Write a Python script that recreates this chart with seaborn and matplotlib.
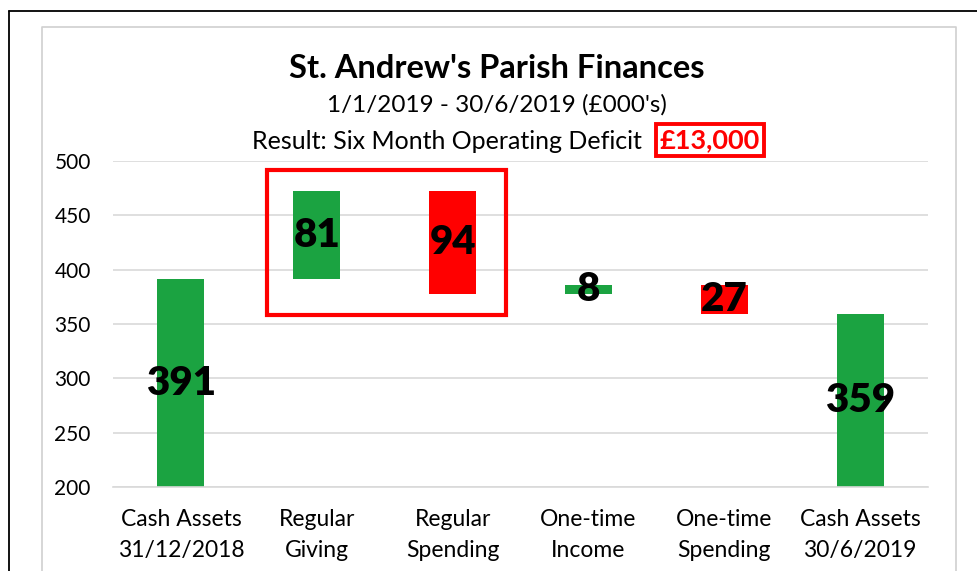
import matplotlib
matplotlib.use("Agg")
import matplotlib.pyplot as plt
import seaborn as sns
import pandas as pd
from matplotlib.patches import Rectangle
from matplotlib.lines import Line2D

categories = ["Cash Assets\n31/12/2018", "Regular\nGiving", "Regular\nSpending",
              "One-time\nIncome", "One-time\nSpending", "Cash Assets\n30/6/2019"]
changes = [391, 81, -94, 8, -27, 359]
kinds = ["total", "delta", "delta", "delta", "delta", "total"]
y_ticks = [200, 250, 300, 350, 400, 450, 500]

GREEN = "#1BA341"
RED = "#FF0000"

# waterfall geometry derived from the values
bottoms, heights = [], []
running = 0
for v, k in zip(changes, kinds):
    if k == "total":
        bottoms.append(0)
        heights.append(v)
        running = v
    else:
        lo = running if v >= 0 else running + v
        bottoms.append(lo)
        heights.append(abs(v))
        running += v
colors = [GREEN if (k == "total" or v >= 0) else RED for v, k in zip(changes, kinds)]

df = pd.DataFrame({"cat": categories, "h": heights, "b": bottoms})

sns.set_theme(style="white")
plt.rcParams["font.family"] = ["Lato", "DejaVu Sans"]

fig = plt.figure(figsize=(9.78, 5.71), dpi=100)
ax = fig.add_axes([113/978, 1-487/571, (928-113)/978, (487-161)/571])

sns.barplot(data=df, x="cat", y="h", bottom=df["b"].values, ax=ax,
            color=GREEN, width=0.346, saturation=1, errorbar=None)
for p, c in zip(ax.patches, colors):
    p.set_facecolor(c)
    p.set_edgecolor("none")

ax.set_ylim(200, 500)
ax.set_xlim(-0.5, 5.5)
ax.set_yticks(y_ticks)
ax.yaxis.grid(True, color="#D9D9D9", lw=1.2)
ax.set_axisbelow(True)
for s in ["top", "right", "left"]:
    ax.spines[s].set_visible(False)
ax.spines["bottom"].set_color("#D9D9D9")
ax.spines["bottom"].set_linewidth(1.2)
ax.set_xlabel("")
ax.set_ylabel("")
ax.tick_params(axis="y", length=0, pad=16, labelsize=15, labelcolor="black")
ax.tick_params(axis="x", length=0, pad=16, labelsize=16.5, labelcolor="black")
for t in ax.get_xticklabels():
    t.set_linespacing(1.55)

# value labels centered in visible bar portion
for i, (v, b, h) in enumerate(zip(changes, bottoms, heights)):
    lo = max(b, 200)
    hi = b + h
    ax.text(i, (lo + hi) / 2, f"{abs(v)}", ha="center", va="center",
            fontsize=29, fontweight="heavy", color="black")

# red box around regular items
ax.add_patch(Rectangle((0.634, 358.3), 2.393 - 0.634, 491.7 - 358.3, fill=False,
                       edgecolor=RED, lw=3, clip_on=False, zorder=5))

# titles
fig.text(497/978, 1-68/571, "St. Andrew's Parish Finances", ha="center", va="center",
         fontsize=23.5, fontweight="bold", color="black")
fig.text(497/978, 1-105/571, "1/1/2019 - 30/6/2019 (£000's)", ha="center", va="center",
         fontsize=17.5, color="black")
fig.text(642/978, 1-141/571, "Result: Six Month Operating Deficit", ha="right", va="center",
         fontsize=18, color="black")
fig.text(710/978, 1-140/571, "£13,000", ha="center", va="center",
         fontsize=19.5, fontweight="bold", color=RED,
         bbox=dict(boxstyle="square,pad=0.15", facecolor="white", edgecolor=RED, lw=2.8))

# frames
fig.add_artist(Line2D([9/978, 9/978], [0, 1-11/571], color="black", lw=1.3))
fig.add_artist(Line2D([9/978, 1], [1-11/571, 1-11/571], color="black", lw=1.3))
fig.add_artist(Line2D([42/978, 42/978, 956/978, 956/978], [0, 1-27/571, 1-27/571, 0],
                      color="#D0D0D0", lw=1.2))

fig.savefig("out.png", dpi=100)
